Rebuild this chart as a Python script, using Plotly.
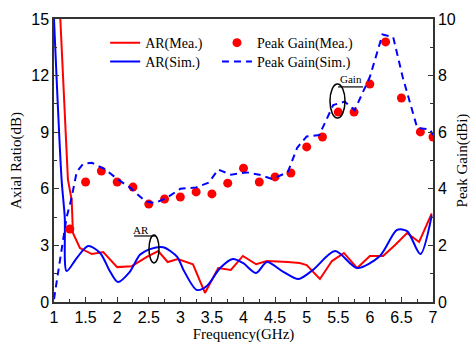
import plotly.graph_objects as go

# ---------------- data ----------------
gain_mea_f = [1.25, 1.5, 1.75, 2.0, 2.25, 2.5, 2.75, 3.0, 3.25, 3.5, 3.75, 4.0,
              4.25, 4.5, 4.75, 5.0, 5.25, 5.5, 5.75, 6.0, 6.25, 6.5, 6.8, 7.0]
gain_mea = [2.58, 4.24, 4.63, 4.24, 4.06, 3.46, 3.64, 3.71, 3.89, 3.82, 4.2, 4.73,
            4.24, 4.42, 4.56, 5.48, 5.83, 6.71, 6.71, 7.70, 9.19, 7.21, 6.01, 5.83]

gain_sim_f = [1.0, 1.1, 1.2, 1.27, 1.36, 1.46, 1.6, 1.8, 2.0, 2.2, 2.45, 2.6, 2.8, 3.0,
              3.25, 3.45, 3.6, 3.8, 4.05, 4.25, 4.45, 4.7, 4.85, 5.0, 5.2, 5.42, 5.6,
              5.76, 6.0, 6.2, 6.37, 6.52, 6.75, 6.95, 7.0]
gain_sim = [0.1, 1.5, 3.0, 3.6, 4.6, 4.88, 4.92, 4.7, 4.35, 4.05, 3.55, 3.5, 3.7, 4.0,
            4.05, 4.22, 4.68, 4.5, 4.58, 4.5, 4.35, 4.58, 5.45, 5.85, 5.9, 6.96, 7.08,
            6.78, 7.95, 9.45, 9.36, 7.95, 6.15, 6.1, 5.9]

ar_mea_f = [1.1, 1.22, 1.28, 1.3, 1.41, 1.6, 1.78, 2.0, 2.23, 2.47, 2.65, 2.8, 2.96,
            3.2, 3.39, 3.6, 3.8, 3.99, 4.2, 4.37, 4.7, 4.89, 5.0, 5.21, 5.4, 5.59,
            5.8, 6.0, 6.21, 6.4, 6.59, 6.78, 6.98]
ar_mea = [15.0, 6.5, 5.4, 3.66, 2.86, 2.54, 2.65, 1.85, 1.9, 2.39, 2.7, 2.12, 2.28,
          2.0, 0.48, 1.8, 1.7, 2.44, 2.0, 2.17, 2.12, 2.07, 1.96, 1.22, 2.17, 2.6,
          1.8, 2.44, 2.44, 3.02, 3.66, 3.18, 4.7]

ar_sim_f = [1.0, 1.12, 1.17, 1.2, 1.36, 1.54, 1.73, 1.89, 2.01, 2.2, 2.36, 2.52, 2.73,
            2.95, 3.05, 3.26, 3.42, 3.63, 3.83, 3.99, 4.2, 4.37, 4.63, 4.87, 5.1,
            5.45, 5.8, 6.16, 6.43, 6.59, 6.8, 6.98]
ar_sim = [15.0, 6.5, 4.5, 1.64, 2.33, 2.97, 2.6, 1.6, 1.06, 1.6, 2.5, 2.8, 2.9,
          2.39, 1.7, 0.64, 0.85, 1.8, 2.28, 2.07, 1.54, 2.12, 1.6, 1.22, 1.7,
          2.7, 1.8, 2.44, 3.82, 3.76, 2.54, 4.6]

x_ticks = [1, 1.5, 2, 2.5, 3, 3.5, 4, 4.5, 5, 5.5, 6, 6.5, 7]
x_tick_labels = ["1", "1.5", "2", "2.5", "3", "3.5", "4", "4.5", "5", "5.5", "6", "6.5", "7"]
y_ticks = [0, 3, 6, 9, 12, 15]
y2_ticks = [0, 2, 4, 6, 8, 10]

RED = "#FF0000"
BLUE = "#0000FF"
SERIF = "Liberation Serif"
SANS = "Liberation Sans"

fig = go.Figure()

fig.add_trace(go.Scatter(x=ar_mea_f, y=ar_mea, mode="lines", name="AR(Mea.)",
                         line=dict(color=RED, width=2), legend="legend"))
fig.add_trace(go.Scatter(x=ar_sim_f, y=ar_sim, mode="lines", name="AR(Sim.)",
                         line=dict(color=BLUE, width=2, shape="spline", smoothing=0.8),
                         legend="legend2"))
fig.add_trace(go.Scatter(x=gain_mea_f, y=gain_mea, mode="markers", name="Peak Gain(Mea.)",
                         marker=dict(color=RED, size=9), yaxis="y2", legend="legend3"))
fig.add_trace(go.Scatter(x=gain_sim_f, y=gain_sim, mode="lines", name="Peak Gain(Sim.)",
                         line=dict(color=BLUE, width=2, dash="7px,5px"), yaxis="y2",
                         legend="legend4"))

axis_common = dict(showline=True, linecolor="#333333", linewidth=1.5, ticks="inside",
                   tickcolor="#333333", ticklen=5, tickwidth=1.2, showgrid=False,
                   zeroline=False, automargin=True,
                   tickfont=dict(family=SANS, size=16, color="black"))

leg_font = dict(family=SERIF, size=14, color="black")
def leg(x, y):
    return dict(x=x, y=y, xanchor="left", yanchor="middle", bgcolor="rgba(0,0,0,0)",
                font=leg_font, borderwidth=0)

fig.update_layout(
    width=476, height=343,
    margin=dict(l=54, r=43, t=19, b=41, autoexpand=False),
    paper_bgcolor="white", plot_bgcolor="white",
    showlegend=True,
    xaxis=dict(range=[1, 7], tickvals=x_ticks, ticktext=x_tick_labels, mirror=True,
               minor=dict(dtick=0.25, ticks="inside", ticklen=3, tickcolor="#333333"),
               title=dict(text="Frequency(GHz)", font=dict(family=SERIF, size=15, color="black"),
                          standoff=0),
               **axis_common),
    yaxis=dict(range=[0, 15], tickvals=y_ticks,
               minor=dict(dtick=1.5, ticks="inside", ticklen=3, tickcolor="#333333"),
               title=dict(text="Axial Ratio(dB)", font=dict(family=SERIF, size=15, color="black"),
                          standoff=6),
               **axis_common),
    yaxis2=dict(range=[0, 10], tickvals=y2_ticks, overlaying="y", side="right",
                minor=dict(dtick=1, ticks="inside", ticklen=3, tickcolor="#333333"),
                title=dict(text="Peak Gain(dBi)", font=dict(family=SERIF, size=15, color="black"),
                           standoff=2),
                **axis_common),
    legend=leg(0.135, 0.915),
    legend2=leg(0.135, 0.848),
    legend3=leg(0.43, 0.915),
    legend4=leg(0.43, 0.848),
)

# annotation markers: AR
fig.add_shape(type="circle", xref="x", yref="y", x0=2.504, x1=2.662, y0=2.07, y1=3.55,
              line=dict(color="black", width=1.5))
fig.add_shape(type="line", xref="x", yref="y", x0=2.267, x1=2.615, y0=3.5, y1=3.5,
              line=dict(color="black", width=1.2))
fig.add_annotation(x=2.377, y=3.82, xref="x", yref="y", text="AR", showarrow=False,
                   font=dict(family=SERIF, size=11, color="black"))
# annotation markers: Gain
fig.add_shape(type="circle", xref="x", yref="y2", x0=5.369, x1=5.607, y0=6.50, y1=7.70,
              line=dict(color="black", width=1.5))
fig.add_shape(type="line", xref="x", yref="y2", x0=5.497, x1=5.893, y0=7.60, y1=7.60,
              line=dict(color="black", width=1.2))
fig.add_annotation(x=5.70, y=7.88, xref="x", yref="y2", text="Gain", showarrow=False,
                   font=dict(family=SERIF, size=11, color="black"))

fig.write_html("out.html")
